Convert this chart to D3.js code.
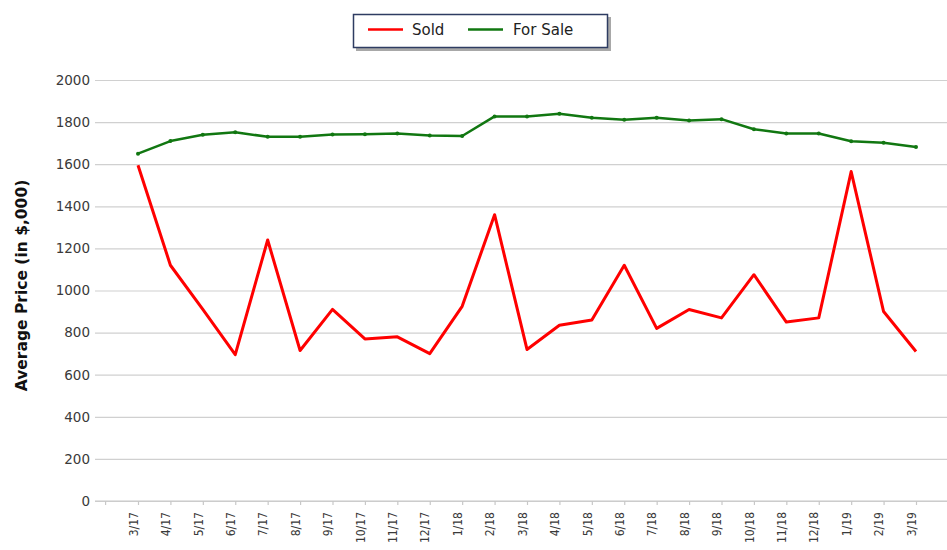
<!DOCTYPE html>
<html>
<head>
<meta charset="utf-8">
<script src="https://cdn.jsdelivr.net/npm/d3@7"></script>
<style>
  html, body { margin: 0; padding: 0; background: #fff; }
  svg { display: block; }
</style>
</head>
<body>
<svg id="chart" width="947" height="550"></svg>
<script>
const months = ["3/17","4/17","5/17","6/17","7/17","8/17","9/17","10/17","11/17","12/17",
  "1/18","2/18","3/18","4/18","5/18","6/18","7/18","8/18","9/18","10/18","11/18","12/18",
  "1/19","2/19","3/19"];
const sold = [1595,1120,910,695,1240,715,910,770,780,700,925,1360,720,835,860,1120,820,910,870,1075,850,870,1565,900,710];
const forSale = [1650,1710,1740,1752,1730,1730,1741,1742,1746,1736,1734,1827,1827,1840,1821,1811,1821,1808,1814,1766,1746,1746,1709,1702,1682];
const yTicks = [0,200,400,600,800,1000,1200,1400,1600,1800,2000];
const seriesNames = ["Sold","For Sale"];
const seriesColors = ["#ff0000","#117711"];

const svg = d3.select("#chart");
const plotLeft = 95, plotRight = 947, plotTop = 80, plotBottom = 501;

const x = d3.scalePoint().domain(months).range([138, 916]);
const y = d3.scaleLinear().domain([0, 2000]).range([plotBottom, plotTop]);

// Gridlines + y labels
const yAxis = svg.append("g")
  .attr("transform", `translate(${plotLeft},0)`)
  .call(d3.axisLeft(y).tickValues(yTicks).tickFormat(d3.format("d"))
    .tickSize(-(plotRight - plotLeft)).tickPadding(5));
yAxis.select(".domain").remove();
yAxis.selectAll(".tick line").attr("stroke", "#d0d0d0").attr("stroke-width", 1.2);
yAxis.selectAll(".tick text")
  .attr("fill", "#3a3a3a")
  .style("font-family", "DejaVu Sans, sans-serif")
  .style("font-size", "13.5px");

// X axis
const xAxis = svg.append("g")
  .attr("transform", `translate(0,${plotBottom})`)
  .call(d3.axisBottom(x).tickSize(4).tickPadding(0));
xAxis.select(".domain").remove();
xAxis.selectAll(".tick line").attr("stroke", "#c8c8c8").attr("stroke-width", 1.2);
xAxis.selectAll(".tick text")
  .attr("fill", "#3a3a3a")
  .attr("transform", "rotate(-90)")
  .attr("x", -11)
  .attr("y", -5)
  .attr("dy", "0.35em")
  .style("text-anchor", "end")
  .style("font-family", "DejaVu Sans Condensed, DejaVu Sans, sans-serif")
  .style("font-size", "12px");
// axis baseline + leading boundary tick
xAxis.append("line")
  .attr("x1", plotLeft).attr("x2", plotRight)
  .attr("y1", 0).attr("y2", 0)
  .attr("stroke", "#c8c8c8").attr("stroke-width", 1.2);
xAxis.append("line")
  .attr("x1", x(months[0]) - x.step()).attr("x2", x(months[0]) - x.step())
  .attr("y1", 0).attr("y2", 4)
  .attr("stroke", "#c8c8c8").attr("stroke-width", 1.2);

// Y title
svg.append("text")
  .attr("transform", `translate(22,${(plotTop + plotBottom) / 2 - 5}) rotate(-90)`)
  .attr("dy", "0.35em")
  .style("text-anchor", "middle")
  .style("font-family", "DejaVu Sans, sans-serif")
  .style("font-weight", "bold")
  .style("font-size", "15.5px")
  .attr("fill", "#111")
  .text("Average Price (in $,000)");

// Lines
const line = d3.line().x((d, i) => x(months[i])).y(d => y(d));
svg.append("path").datum(forSale)
  .attr("fill", "none").attr("stroke", seriesColors[1]).attr("stroke-width", 2.5)
  .attr("stroke-linejoin", "round").attr("d", line);
svg.append("g").selectAll("circle").data(forSale).join("circle")
  .attr("cx", (d, i) => x(months[i])).attr("cy", d => y(d)).attr("r", 2)
  .attr("fill", seriesColors[1]);
svg.append("path").datum(sold)
  .attr("fill", "none").attr("stroke", seriesColors[0]).attr("stroke-width", 3)
  .attr("stroke-linejoin", "round").attr("d", line);

// Legend
const lg = svg.append("g");
lg.append("rect").attr("x", 356).attr("y", 17).attr("width", 255).attr("height", 34)
  .attr("fill", "#a8a8a8");
lg.append("rect").attr("x", 353.5).attr("y", 14.5).attr("width", 254).attr("height", 33)
  .attr("fill", "#fff").attr("stroke", "#2e3c62").attr("stroke-width", 1.5);
const legendItems = [{x: 368, tx: 412}, {x: 468, tx: 513}];
legendItems.forEach((it, i) => {
  lg.append("line").attr("x1", it.x).attr("x2", it.x + 35).attr("y1", 29.5).attr("y2", 29.5)
    .attr("stroke", seriesColors[i]).attr("stroke-width", 2.5);
  lg.append("text").attr("x", it.tx).attr("y", 29.5).attr("dy", "0.35em")
    .style("font-family", "DejaVu Sans, sans-serif").style("font-size", "15px")
    .attr("fill", "#222").text(seriesNames[i]);
});
</script>
</body>
</html>
